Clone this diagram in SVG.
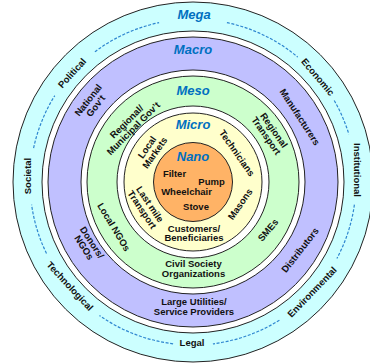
<svg xmlns="http://www.w3.org/2000/svg" width="370" height="364" viewBox="0 0 370 364">
<style>
.ring{stroke:#222;stroke-width:1}
.t{font-family:"Liberation Sans",Arial,sans-serif;font-weight:bold;font-size:9.5px;fill:#111;text-anchor:middle}
.h{font-family:"Liberation Sans",Arial,sans-serif;font-weight:bold;font-style:italic;font-size:13px;fill:#0070C0;text-anchor:middle}
.dash{fill:none;stroke:#2E86D0;stroke-width:1.2;stroke-dasharray:3 1.6}
</style>
<rect width="370" height="364" fill="#fff"/>
<g id="mega">
<circle class="ring" cx="193" cy="182" r="180" fill="#CCFFFF" stroke-width="1.3"/>
<circle class="ring" cx="193" cy="182" r="151" fill="#fff"/>
<text class="h" x="194" y="19">Mega</text>
<text class="t" transform="translate(72,73) rotate(-48)" y="3.4">Political</text>
<text class="t" transform="translate(318,77) rotate(50)" y="3.4">Economic</text>
<text class="t" transform="translate(357,170) rotate(90)" y="3.4">Institutional</text>
<text class="t" transform="translate(312,292) rotate(-46)" y="3.4">Environmental</text>
<text class="t" x="192" y="346">Legal</text>
<text class="t" transform="translate(70,286) rotate(47)" y="3.4">Technological</text>
<text class="t" transform="translate(28,176) rotate(-90)" y="3.4">Societal</text>
</g>
<g id="dashes">
<path class="dash" d="M94.9 51.8A163 163 0 0 1 159.1 22.6"/>
<path class="dash" d="M226.9 22.6A163 163 0 0 1 297.8 57.1"/>
<path class="dash" d="M334.2 100.5A163 163 0 0 1 348.9 134.3"/>
<path class="dash" d="M354.4 204.7A163 163 0 0 1 336.9 258.5"/>
<path class="dash" d="M279.4 320.2A163 163 0 0 1 212.9 343.8"/>
<path class="dash" d="M173.1 343.8A163 163 0 0 1 99.5 315.5"/>
<path class="dash" d="M46.5 253.5A163 163 0 0 1 31.6 204.7"/>
<path class="dash" d="M33.6 148.1A163 163 0 0 1 54.8 95.6"/>
</g>
<g id="macro">
<circle class="ring" cx="193" cy="182" r="145" fill="#C0C0FF"/>
<circle class="ring" cx="193" cy="182" r="112" fill="#fff"/>
<text class="h" x="193" y="54">Macro</text>
<text class="t" transform="translate(92,103) rotate(-52)"><tspan x="0" y="-1.5">National</tspan><tspan x="0" y="8">Gov’t</tspan></text>
<text class="t" transform="translate(300,117) rotate(57)" y="3.4">Manufacturers</text>
<text class="t" transform="translate(88,245) rotate(57)"><tspan x="0" y="-1.5">Donors/</tspan><tspan x="0" y="8">NGOs</tspan></text>
<text class="t" transform="translate(300,250) rotate(-52)" y="3.4">Distributors</text>
<text class="t"><tspan x="194" y="305">Large Utilities/</tspan><tspan x="194" y="314.5">Service Providers</tspan></text>
</g>
<g id="meso">
<circle class="ring" cx="193" cy="182" r="106" fill="#CCFFCC"/>
<circle class="ring" cx="193" cy="182" r="76" fill="#fff"/>
<text class="h" x="193" y="95">Meso</text>
<text class="t" transform="translate(130,125) rotate(-45)"><tspan x="0" y="-1.5">Regional/</tspan><tspan x="0" y="8">Municipal Gov’t</tspan></text>
<text class="t" transform="translate(270,133) rotate(55)"><tspan x="0" y="-1.5">Regional</tspan><tspan x="0" y="8">Transport</tspan></text>
<text class="t" transform="translate(114,227) rotate(59)" y="3.4">Local NGOs</text>
<text class="t" transform="translate(268,230) rotate(-50)" y="3.4">SMEs</text>
<text class="t"><tspan x="193.5" y="267">Civil Society</tspan><tspan x="193.5" y="276.5">Organizations</tspan></text>
</g>
<g id="micro">
<circle class="ring" cx="193" cy="182" r="69" fill="#FFFFCC"/>
<text class="h" x="193" y="129">Micro</text>
<text class="t" transform="translate(151,150) rotate(-55)"><tspan x="0" y="-1.5">Local</tspan><tspan x="0" y="8">Markets</tspan></text>
<text class="t" transform="translate(237,153) rotate(55)" y="3.4">Technicians</text>
<text class="t" transform="translate(146,207) rotate(56)"><tspan x="0" y="-1.5">Last mile</tspan><tspan x="0" y="8">Transport</tspan></text>
<text class="t" transform="translate(240,204) rotate(-55)" y="3.4">Masons</text>
<text class="t"><tspan x="194" y="231.5">Customers/</tspan><tspan x="194" y="241">Beneficiaries</tspan></text>
</g>
<g id="nano">
<circle class="ring" cx="193" cy="182" r="39.5" fill="#FFB366"/>
<text class="h" x="193" y="161">Nano</text>
<text class="t" x="174.5" y="177">Filter</text>
<text class="t" x="211.5" y="184.5">Pump</text>
<text class="t" x="186.5" y="194.5">Wheelchair</text>
<text class="t" x="196" y="210">Stove</text>
</g>
</svg>
